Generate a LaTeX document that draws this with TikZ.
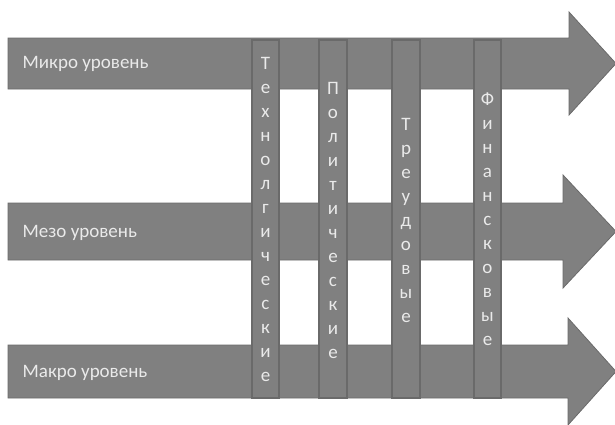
\documentclass[tikz,border=0pt]{standalone}
\usepackage{fontspec}
\setmainfont{Carlito}
\definecolor{shapegray}{HTML}{808080}
\definecolor{edgegray}{HTML}{6A6A6A}
\definecolor{txtgray}{HTML}{EAEAEA}
\begin{document}
\begin{tikzpicture}[x=1pt,y=-1pt,
  arrowshape/.style={fill=shapegray,draw=edgegray,line width=0.8pt},
  barshape/.style={fill=shapegray,draw=edgegray,line width=1.2pt},
  leveltext/.style={text=txtgray,font=\fontsize{19}{23}\selectfont,anchor=west,inner sep=0pt},
  vtext/.style={text=txtgray,font=\fontsize{19}{24}\selectfont,align=center,inner sep=0pt,anchor=center}]
\useasboundingbox (0,0) rectangle (615,424);
% arrows
\draw[arrowshape] (8,38) -- (569,38) -- (569,12) -- (616,63.5) -- (569,115) -- (569,89) -- (8,89) -- cycle;
\draw[arrowshape] (8,203) -- (563,203) -- (563,175) -- (616,231.5) -- (563,288) -- (563,260) -- (8,260) -- cycle;
\draw[arrowshape] (8,345) -- (568,345) -- (568,318) -- (616,371.5) -- (568,425) -- (568,398) -- (8,398) -- cycle;
% bars
\draw[barshape] (252,40) rectangle (279,398);
\draw[barshape] (319,40) rectangle (347,398);
\draw[barshape] (392,40) rectangle (420,398);
\draw[barshape] (474,40) rectangle (501,398);
% labels
\node[leveltext] (micro) at (22.5,64) {Микро уровень};
\node[leveltext] (meso) at (22.5,233) {Мезо уровень};
\node[leveltext] (macro) at (22.5,373) {Макро уровень};
\node[vtext] (tech) at (265.5,219) {Т\\е\\х\\н\\о\\л\\г\\и\\ч\\е\\с\\к\\и\\е};
\node[vtext] (pol) at (333,220) {П\\о\\л\\и\\т\\и\\ч\\е\\с\\к\\и\\е};
\node[vtext] (trud) at (406,220) {Т\\р\\е\\у\\д\\о\\в\\ы\\е};
\node[vtext] (fin) at (487.5,219) {Ф\\и\\н\\а\\н\\с\\к\\о\\в\\ы\\е};
\end{tikzpicture}
\end{document}
